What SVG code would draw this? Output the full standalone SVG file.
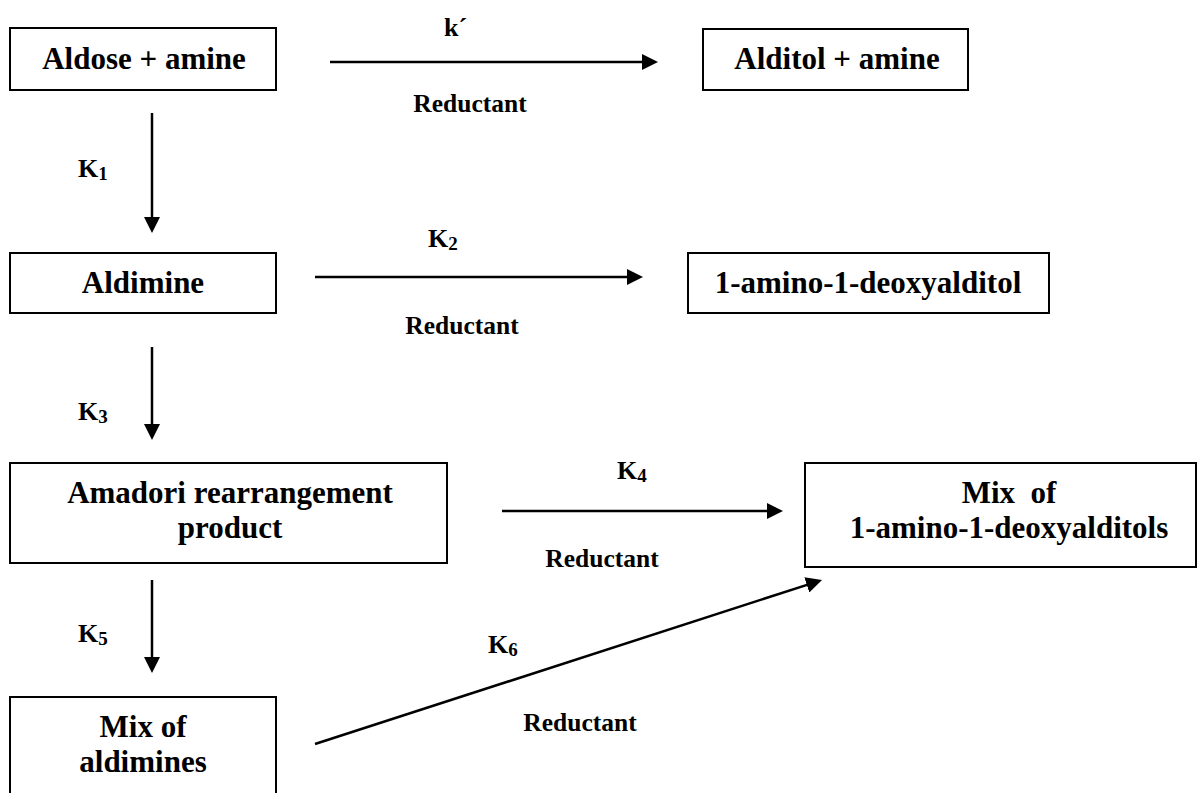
<svg xmlns="http://www.w3.org/2000/svg" width="1198" height="793" viewBox="0 0 1198 793">
  <style>
    text { font-family: "Liberation Serif", "Times New Roman", serif; font-weight: bold; fill: #000; }
    .node { font-size: 31px; }
    .lbl { font-size: 26px; }
    .sub { font-size: 19px; }
    .red { font-size: 25.5px; }
    rect { fill: #fff; stroke: #000; stroke-width: 2; }
    .conn line { stroke: #000; stroke-width: 2.5; }
  </style>
  <defs>
    <marker id="ah" markerUnits="userSpaceOnUse" markerWidth="16" markerHeight="16" refX="6" refY="8" orient="auto">
      <path d="M0,0 L16,8 L0,16 z" fill="#000"/>
    </marker>
  </defs>
  <rect x="0" y="0" width="1198" height="793" style="stroke:none;fill:#fff"/>

  <g id="aldose">
    <rect x="10" y="28" width="266" height="62"/>
    <text class="node" x="144" y="69" text-anchor="middle">Aldose + amine</text>
  </g>
  <g id="alditol">
    <rect x="703" y="29" width="265" height="61"/>
    <text class="node" x="837" y="69" text-anchor="middle">Alditol + amine</text>
  </g>
  <g id="aldimine">
    <rect x="10" y="253" width="266" height="60"/>
    <text class="node" x="143" y="293" text-anchor="middle">Aldimine</text>
  </g>
  <g id="aminodeoxyalditol">
    <rect x="688" y="253" width="361" height="60"/>
    <text class="node" x="868" y="293" text-anchor="middle">1-amino-1-deoxyalditol</text>
  </g>
  <g id="amadori">
    <rect x="10" y="463" width="437" height="100"/>
    <text class="node" x="230" y="503" text-anchor="middle">Amadori rearrangement</text>
    <text class="node" x="230" y="538" text-anchor="middle">product</text>
  </g>
  <g id="mixamino">
    <rect x="805" y="463" width="391" height="104"/>
    <text class="node" x="1009" y="503" text-anchor="middle" xml:space="preserve">Mix  of</text>
    <text class="node" x="1009" y="538" text-anchor="middle">1-amino-1-deoxyalditols</text>
  </g>
  <g id="mixaldimines">
    <rect x="10" y="697" width="266" height="110"/>
    <text class="node" x="143" y="737" text-anchor="middle">Mix of</text>
    <text class="node" x="143" y="772" text-anchor="middle">aldimines</text>
  </g>

  <g class="conn" id="connectors">
    <line x1="330" y1="62" x2="648" y2="62" marker-end="url(#ah)"/>
    <line x1="152" y1="113" x2="152" y2="223" marker-end="url(#ah)"/>
    <line x1="315" y1="277" x2="633" y2="277" marker-end="url(#ah)"/>
    <line x1="152" y1="347" x2="152" y2="430" marker-end="url(#ah)"/>
    <line x1="502" y1="511" x2="773" y2="511" marker-end="url(#ah)"/>
    <line x1="152" y1="580" x2="152" y2="663" marker-end="url(#ah)"/>
    <line x1="315" y1="744" x2="812.5" y2="583.1" marker-end="url(#ah)"/>
  </g>

  <g id="labels">
    <text class="lbl" x="444" y="36">k´</text>
    <text class="red" x="470" y="112" text-anchor="middle">Reductant</text>
    <text class="lbl" x="78" y="177">K<tspan class="sub" dy="3">1</tspan></text>
    <text class="lbl" x="428" y="247">K<tspan class="sub" dy="3">2</tspan></text>
    <text class="red" x="462" y="334" text-anchor="middle">Reductant</text>
    <text class="lbl" x="78" y="420">K<tspan class="sub" dy="3">3</tspan></text>
    <text class="lbl" x="617" y="479">K<tspan class="sub" dy="3">4</tspan></text>
    <text class="red" x="602" y="567" text-anchor="middle">Reductant</text>
    <text class="lbl" x="78" y="642">K<tspan class="sub" dy="3">5</tspan></text>
    <text class="lbl" x="488" y="653">K<tspan class="sub" dy="3">6</tspan></text>
    <text class="red" x="580" y="731" text-anchor="middle">Reductant</text>
  </g>
</svg>
